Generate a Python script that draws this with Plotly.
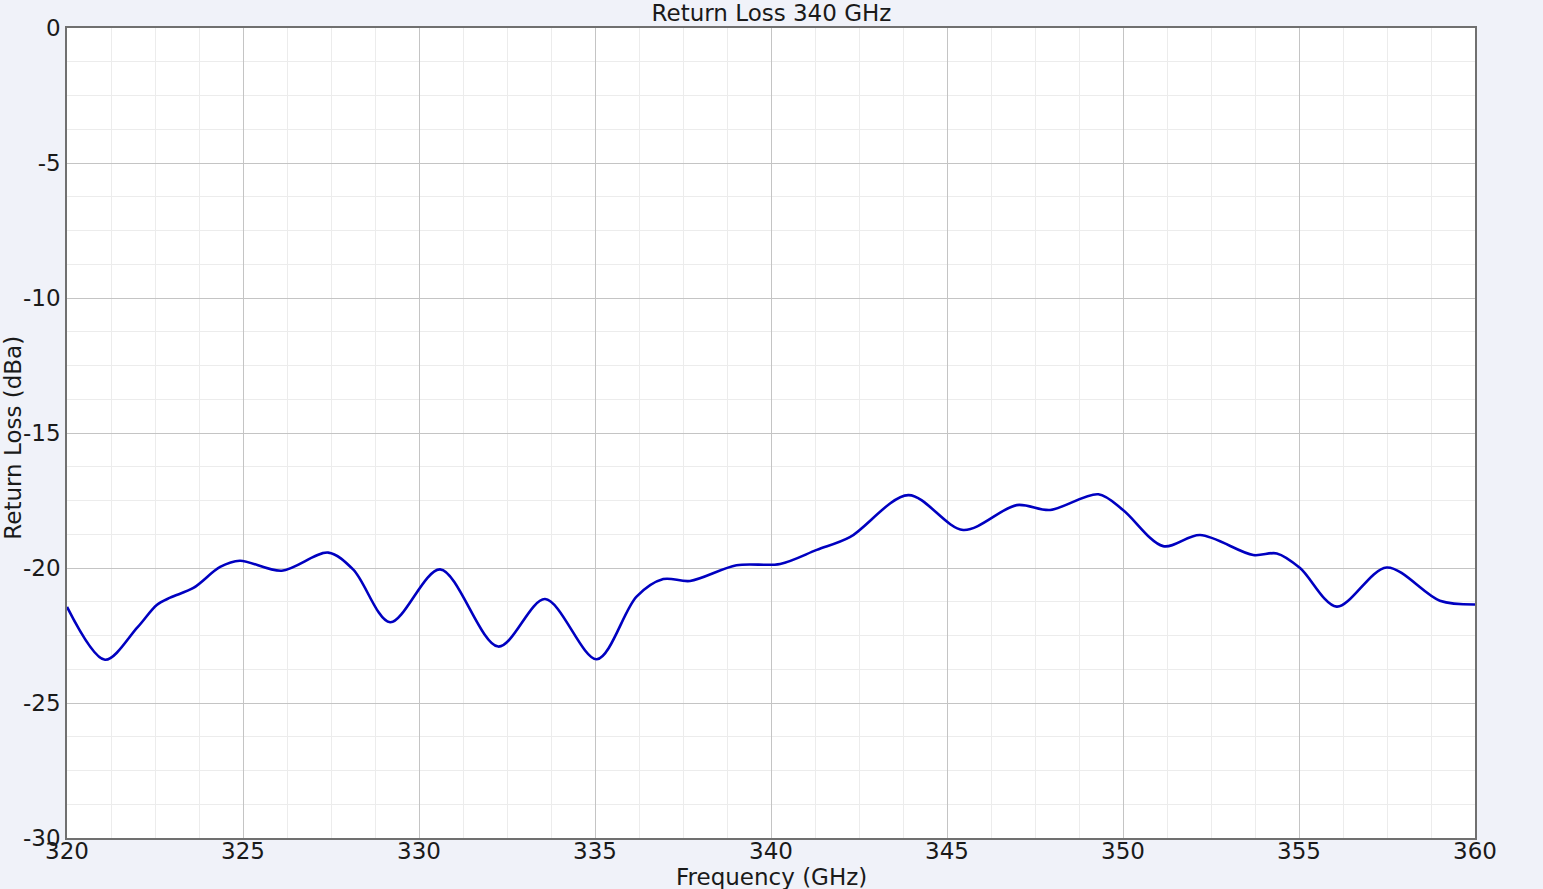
import plotly.graph_objects as go

freq_ghz = [320.0, 321.08, 322.0, 322.55, 322.93, 323.59, 324.35, 324.91, 326.1, 327.42, 328.14,
            329.18, 330.6, 332.25, 333.58, 335.05, 336.18, 336.94, 337.7, 339.02, 340.26,
            341.3, 342.24, 343.9, 345.46, 346.98, 347.93, 349.3, 350.0, 351.14, 352.19,
            353.7, 354.37, 355.03, 356.07, 357.49, 359.0, 360.0]
return_loss_db = [-21.44, -23.4, -22.2, -21.37, -21.1, -20.74, -19.96, -19.73, -20.1, -19.43, -20.07,
                  -22.01, -20.05, -22.91, -21.15, -23.38, -21.06, -20.41, -20.48, -19.9, -19.85,
                  -19.33, -18.86, -17.3, -18.59, -17.67, -17.85, -17.27, -17.85, -19.19, -18.78,
                  -19.52, -19.46, -20.0, -21.43, -19.98, -21.21, -21.35]

x_ticks = [320, 325, 330, 335, 340, 345, 350, 355, 360]
x_labels = ["320", "325", "330", "335", "340", "345", "350", "355", "360"]
y_ticks = [0, -5, -10, -15, -20, -25, -30]
y_labels = ["0", "-5", "-10", "-15", "-20", "-25", "-30"]

fig = go.Figure()
fig.add_trace(go.Scatter(x=freq_ghz, y=return_loss_db, mode="lines",
                         line=dict(color="#0000c0", width=2.6, shape="spline", smoothing=0.9),
                         showlegend=False))

font = "DejaVu Sans, Verdana, sans-serif"
fs = 23
fig.update_layout(
    width=1543, height=889,
    paper_bgcolor="#f0f2f9", plot_bgcolor="white",
    margin=dict(l=67, r=68, t=28, b=51, autoexpand=False),
    title=dict(text="Return Loss 340 GHz", x=0.5, xanchor="center", y=0.985, yanchor="middle",
               font=dict(family=font, size=fs, color="#1a1a1a")),
    font=dict(family=font, size=fs, color="#1a1a1a"),
)
fig.add_annotation(text="Frequency (GHz)", xref="paper", yref="paper", x=0.5, y=-0.0485,
                   xanchor="center", yanchor="middle", showarrow=False,
                   font=dict(family=font, size=fs, color="#1a1a1a"))
fig.add_annotation(text="Return Loss (dBa)", xref="paper", yref="paper", x=-0.0385, y=0.494,
                   xanchor="center", yanchor="middle", textangle=-90, showarrow=False,
                   font=dict(family=font, size=fs, color="#1a1a1a"))
fig.update_xaxes(range=[320, 360], tickvals=x_ticks, ticktext=x_labels, ticks="", ticklen=0,
                 ticklabelstandoff=-8, automargin=False,
                 showgrid=True, gridcolor="#c4c4c4", gridwidth=1,
                 minor=dict(dtick=1.25, showgrid=True, gridcolor="#ececec", gridwidth=1),
                 showline=True, linecolor="#707070", linewidth=1.5, mirror=True, zeroline=False,
                 tickfont=dict(size=fs))
fig.update_yaxes(range=[-30, 0], tickvals=y_ticks, ticktext=y_labels, ticks="", ticklen=0,
                 automargin=False,
                 showgrid=True, gridcolor="#c4c4c4", gridwidth=1,
                 minor=dict(dtick=1.25, showgrid=True, gridcolor="#ececec", gridwidth=1),
                 showline=True, linecolor="#707070", linewidth=1.5, mirror=True, zeroline=False,
                 tickfont=dict(size=fs))

fig.write_html("out.html", config={"displayModeBar": False},
               post_script="document.body.style.margin='0';document.body.style.background='#f0f2f9';")
